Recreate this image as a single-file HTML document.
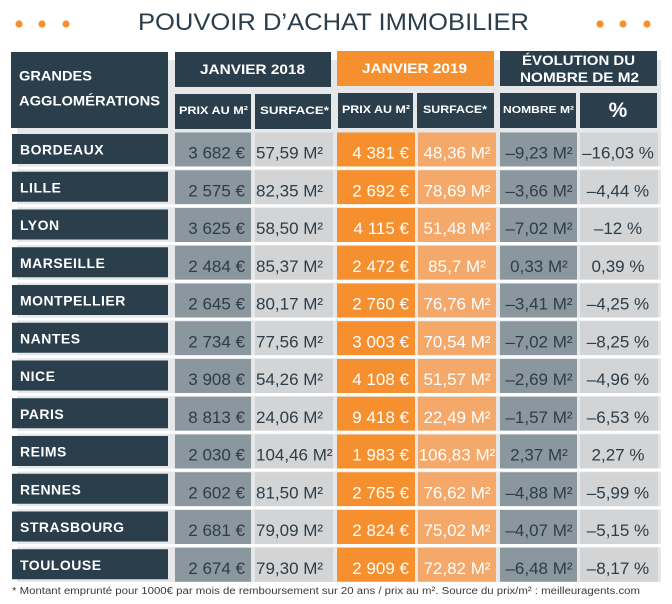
<!DOCTYPE html>
<html>
<head>
<meta charset="utf-8">
<style>
html,body{margin:0;padding:0;background:#fff;}
svg{display:block;}
text{font-family:"Liberation Sans",sans-serif;}
</style>
</head>
<body>
<svg width="672" height="604" viewBox="0 0 672 604" xmlns="http://www.w3.org/2000/svg">
<rect x="0" y="0" width="672" height="604" fill="#ffffff"/>
<g fill="#f6902f">
<circle cx="19" cy="24" r="3.6"/><circle cx="42" cy="24" r="3.6"/><circle cx="66" cy="24" r="3.6"/>
<circle cx="600" cy="24" r="3.6"/><circle cx="623" cy="24" r="3.6"/><circle cx="647" cy="24" r="3.6"/>
</g>
<text x="138" y="30" font-size="24" fill="#2a3e4c" textLength="391" lengthAdjust="spacingAndGlyphs">POUVOIR D’ACHAT IMMOBILIER</text>

<rect x="17" y="60" width="644" height="522" fill="#e6e7e8"/>

<rect x="11" y="52" width="157" height="76" fill="#2a3e4c"/>
<text x="19" y="80.5" font-size="14" font-weight="bold" fill="#fff" textLength="73" lengthAdjust="spacingAndGlyphs">GRANDES</text>
<text x="19" y="105.5" font-size="14" font-weight="bold" fill="#fff" textLength="141" lengthAdjust="spacingAndGlyphs">AGGLOMÉRATIONS</text>

<rect x="175" y="52" width="156" height="35" fill="#2a3e4c"/>
<text x="200" y="74" font-size="14" font-weight="bold" fill="#fff" textLength="105" lengthAdjust="spacingAndGlyphs">JANVIER 2018</text>
<rect x="175" y="94" width="76" height="35" fill="#2a3e4c"/>
<text x="179" y="114" font-size="11" font-weight="bold" fill="#fff" textLength="69" lengthAdjust="spacingAndGlyphs">PRIX AU M²</text>
<rect x="255" y="94" width="76" height="35" fill="#2a3e4c"/>
<text x="260" y="114" font-size="11" font-weight="bold" fill="#fff" textLength="69" lengthAdjust="spacingAndGlyphs">SURFACE*</text>

<rect x="337" y="51" width="157" height="35" fill="#f6902f"/>
<text x="362" y="73" font-size="14" font-weight="bold" fill="#fff" textLength="105" lengthAdjust="spacingAndGlyphs">JANVIER 2019</text>
<rect x="338" y="93" width="75" height="35" fill="#2a3e4c"/>
<text x="342" y="113" font-size="11" font-weight="bold" fill="#fff" textLength="68" lengthAdjust="spacingAndGlyphs">PRIX AU M²</text>
<rect x="417" y="93" width="77" height="35" fill="#2a3e4c"/>
<text x="423" y="113" font-size="11" font-weight="bold" fill="#fff" textLength="64" lengthAdjust="spacingAndGlyphs">SURFACE*</text>

<rect x="500" y="51" width="157" height="35" fill="#2a3e4c"/>
<text x="522" y="65" font-size="14" font-weight="bold" fill="#fff" textLength="113" lengthAdjust="spacingAndGlyphs">ÉVOLUTION DU</text>
<text x="520" y="82" font-size="14" font-weight="bold" fill="#fff" textLength="119" lengthAdjust="spacingAndGlyphs">NOMBRE DE M2</text>
<rect x="500" y="93" width="76" height="35" fill="#2a3e4c"/>
<text x="503" y="113" font-size="10.5" font-weight="bold" fill="#fff" textLength="71" lengthAdjust="spacingAndGlyphs">NOMBRE M²</text>
<rect x="580" y="93" width="77" height="35" fill="#2a3e4c"/>
<text x="618" y="117" font-size="21" font-weight="bold" fill="#fff" text-anchor="middle">%</text>

<g id="rows"></g>

<text x="12" y="594" font-size="10" fill="#3a3a3a" textLength="628" lengthAdjust="spacingAndGlyphs">* Montant emprunté pour 1000€ par mois de remboursement sur 20 ans / prix au m². Source du prix/m² : meilleuragents.com</text>
</svg>
<script>
(function(){
var data=[
["BORDEAUX","3 682 €","57,59 M²","4 381 €","48,36 M²","–9,23 M²","–16,03 %"],
["LILLE","2 575 €","82,35 M²","2 692 €","78,69 M²","–3,66 M²","–4,44 %"],
["LYON","3 625 €","58,50 M²","4 115 €","51,48 M²","–7,02 M²","–12 %"],
["MARSEILLE","2 484 €","85,37 M²","2 472 €","85,7 M²","0,33 M²","0,39 %"],
["MONTPELLIER","2 645 €","80,17 M²","2 760 €","76,76 M²","–3,41 M²","–4,25 %"],
["NANTES","2 734 €","77,56 M²","3 003 €","70,54 M²","–7,02 M²","–8,25 %"],
["NICE","3 908 €","54,26 M²","4 108 €","51,57 M²","–2,69 M²","–4,96 %"],
["PARIS","8 813 €","24,06 M²","9 418 €","22,49 M²","–1,57 M²","–6,53 %"],
["REIMS","2 030 €","104,46 M²","1 983 €","106,83 M²","2,37 M²","2,27 %"],
["RENNES","2 602 €","81,50 M²","2 765 €","76,62 M²","–4,88 M²","–5,99 %"],
["STRASBOURG","2 681 €","79,09 M²","2 824 €","75,02 M²","–4,07 M²","–5,15 %"],
["TOULOUSE","2 674 €","79,30 M²","2 909 €","72,82 M²","–6,48 M²","–8,17 %"]
];
var cols=[
{x:175,w:76,fill:"#8b979f",tc:"#2c3d48",tx:245,anchor:"end"},
{x:255,w:78,fill:"#d3d4d6",tc:"#2c3d48",tx:256,anchor:"start"},
{x:337,w:78,fill:"#f6902f",tc:"#ffffff",tx:409,anchor:"end"},
{x:418,w:78,fill:"#f4a96b",tc:"#ffffff",tx:457,anchor:"middle"},
{x:500,w:77,fill:"#8b979f",tc:"#2c3d48",tx:539,anchor:"middle"},
{x:580,w:78,fill:"#d3d4d6",tc:"#2c3d48",tx:618,anchor:"middle"}
];
var g=document.getElementById("rows");
var NS="http://www.w3.org/2000/svg";
function el(n,a,t){var e=document.createElementNS(NS,n);for(var k in a)e.setAttribute(k,a[k]);if(t!=null)e.textContent=t;g.appendChild(e);return e;}
for(var i=0;i<data.length;i++){
  var T=134+37.75*i;
  var r=data[i];
  el("rect",{x:12,y:T,width:156,height:30,fill:"#2a3e4c"});
  el("text",{x:20,y:T+20.5,"font-size":14,"font-weight":"bold",fill:"#fff","letter-spacing":"0.5"},r[0]);
  for(var j=0;j<6;j++){
    var c=cols[j];
    el("rect",{x:c.x,y:T-1.5,width:c.w,height:34,fill:c.fill});
    el("text",{x:c.tx,y:T+24.7,"font-size":17,fill:c.tc,"text-anchor":c.anchor},r[j+1]);
  }
  if(i<data.length-1){
    el("rect",{x:12,y:T+32.5,width:649,height:3,fill:"#ffffff"});
  }
}
})();
</script>
</body>
</html>
